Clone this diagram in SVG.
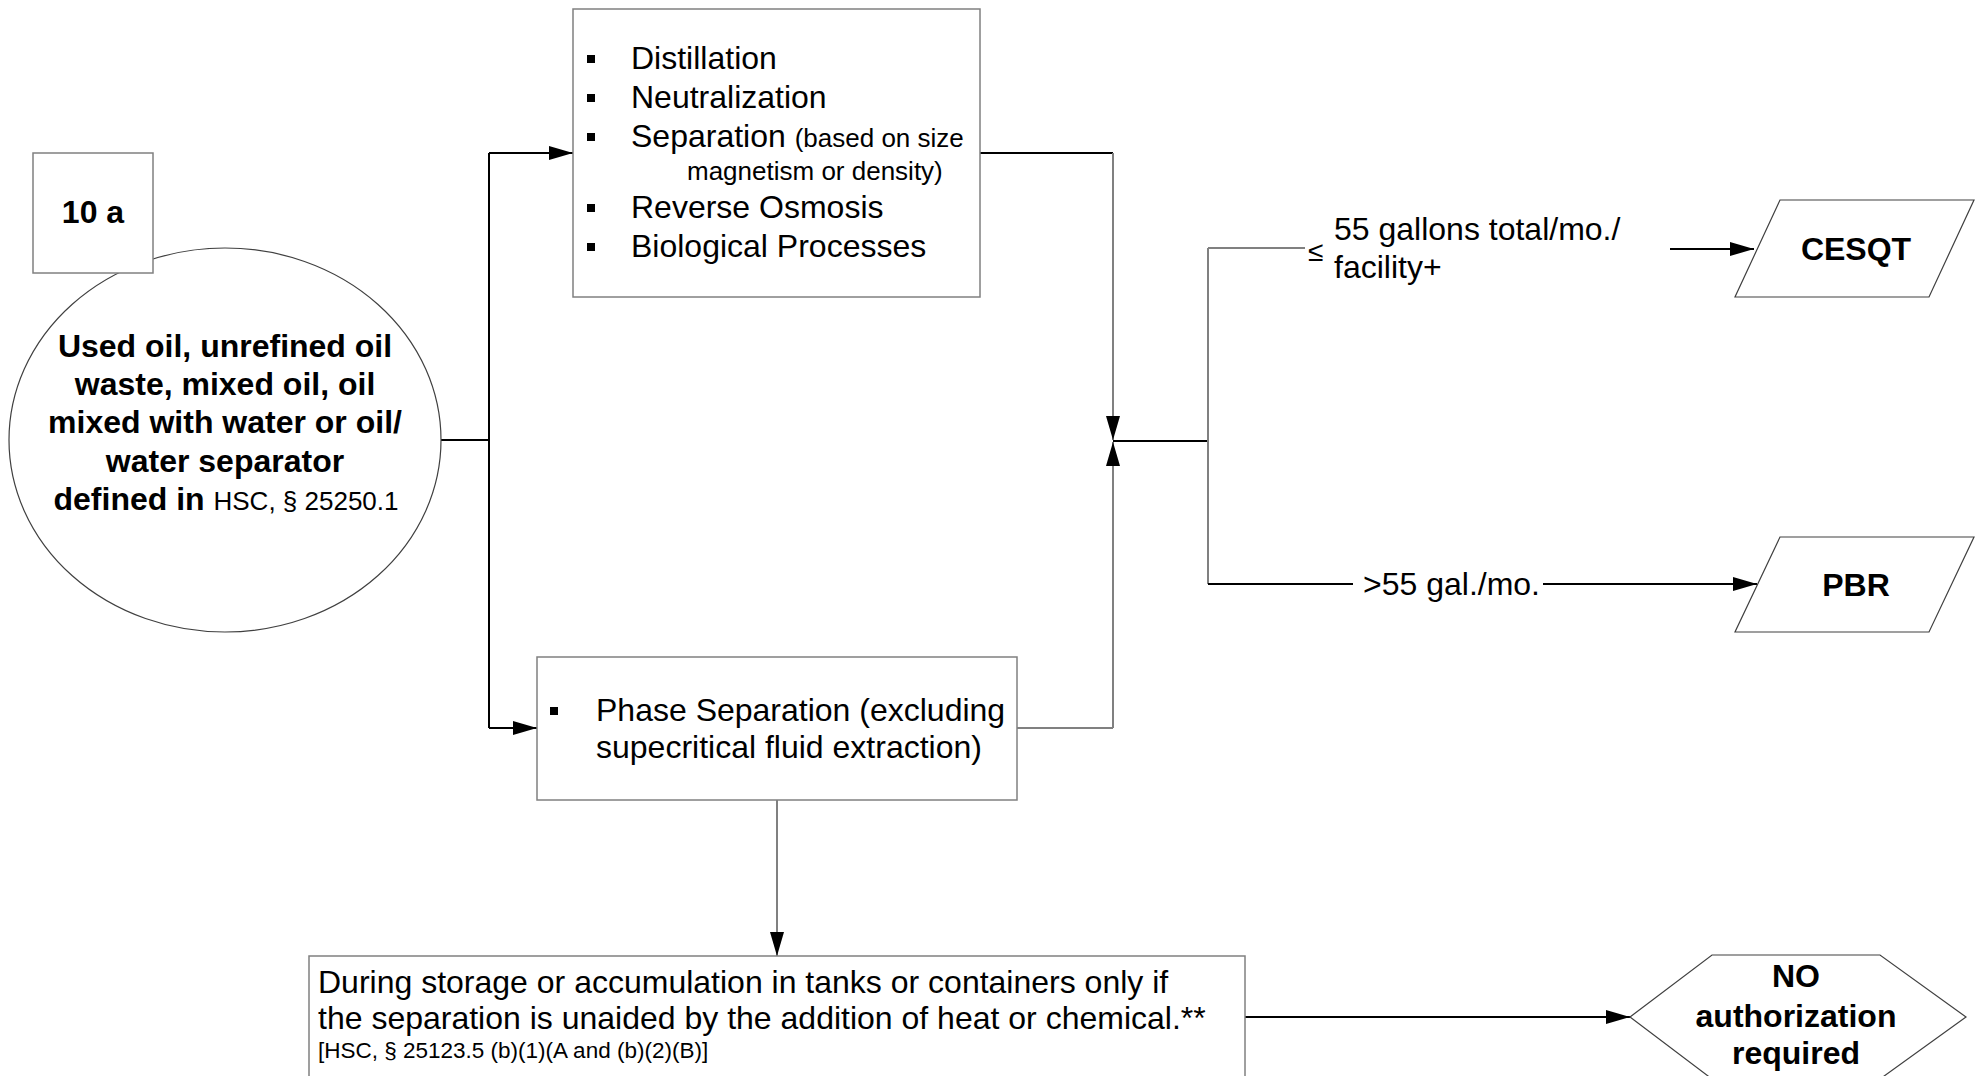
<svg xmlns="http://www.w3.org/2000/svg" width="1976" height="1076" viewBox="0 0 1976 1076">
<style>
.box{fill:#fff;stroke:#808080;stroke-width:1.5}
.shp{fill:#fff;stroke:#404040;stroke-width:1.2}
.t{font-family:'Liberation Sans',Arial,sans-serif;font-size:32px;fill:#000}
.b{font-weight:bold}
.s{font-size:26px}
.xs{font-size:22.5px}
.m{text-anchor:middle}
.ln{fill:none;stroke:#000;stroke-width:2}
.lg{fill:none;stroke:#808080;stroke-width:2}
.bul{fill:#000}
</style>
<defs>
<marker id="ah" viewBox="0 0 24 14" refX="24" refY="7" markerWidth="24" markerHeight="14" markerUnits="userSpaceOnUse" orient="auto">
<path d="M0,0 L24,7 L0,14 z" fill="#000"/>
</marker>
</defs>
<rect width="1976" height="1076" fill="#fff"/>

<g id="connectors">
<path class="ln" d="M441,440 H489"/>
<path class="ln" d="M489,153 V728"/>
<path class="ln" d="M489,153 H573" marker-end="url(#ah)"/>
<path class="ln" d="M489,728 H537" marker-end="url(#ah)"/>
<path class="ln" d="M980,153 H1113"/>
<path class="lg" d="M1113,153 V440" marker-end="url(#ah)"/>
<path class="lg" d="M1017,728 H1113"/>
<path class="lg" d="M1113,728 V442" marker-end="url(#ah)"/>
<path class="ln" d="M1113,441 H1208"/>
<path class="lg" d="M1208,248 V584"/>
<path class="lg" d="M1208,248 H1305"/>
<path class="ln" d="M1670,249 H1754" marker-end="url(#ah)"/>
<path class="ln" d="M1208,584 H1353"/>
<path class="ln" d="M1543,584 H1757" marker-end="url(#ah)"/>
<path class="lg" d="M777,800 V956" marker-end="url(#ah)"/>
<path class="ln" d="M1245,1017 H1630" marker-end="url(#ah)"/>
<text class="t" x="1308" y="261" style="font-size:28px">≤</text>
<text class="t" x="1334" y="240">55 gallons total/mo./</text>
<text class="t" x="1334" y="278">facility+</text>
<text class="t" x="1363" y="595">&gt;55 gal./mo.</text>
</g>

<g id="node-input">
<ellipse class="shp" cx="225" cy="440" rx="216" ry="192"/>
<text class="t b m" x="225" y="357">Used oil, unrefined oil</text>
<text class="t b m" x="225" y="395">waste, mixed oil, oil</text>
<text class="t b m" x="225" y="433">mixed with water or oil/</text>
<text class="t b m" x="225" y="472">water separator</text>
<text class="t b m" x="226" y="510">defined in <tspan class="s" font-weight="normal">HSC, § 25250.1</tspan></text>
</g>

<g id="node-10a">
<rect class="box" x="33" y="153" width="120" height="120"/>
<text class="t b m" x="93" y="223">10 a</text>
</g>

<g id="node-processes">
<rect class="box" x="573" y="9" width="407" height="288"/>
<rect class="bul" x="587" y="55" width="8" height="8"/>
<text class="t" x="631" y="69">Distillation</text>
<rect class="bul" x="587" y="94" width="8" height="8"/>
<text class="t" x="631" y="108">Neutralization</text>
<rect class="bul" x="587" y="133" width="8" height="8"/>
<text class="t" x="631" y="147">Separation <tspan class="s">(based on size</tspan></text>
<text class="t s" x="687" y="180">magnetism or density)</text>
<rect class="bul" x="587" y="204" width="8" height="8"/>
<text class="t" x="631" y="218">Reverse Osmosis</text>
<rect class="bul" x="587" y="243" width="8" height="8"/>
<text class="t" x="631" y="257">Biological Processes</text>
</g>

<g id="node-phase">
<rect class="box" x="537" y="657" width="480" height="143"/>
<rect class="bul" x="550" y="707" width="8" height="8"/>
<text class="t" x="596" y="721">Phase Separation (excluding</text>
<text class="t" x="596" y="758">supecritical fluid extraction)</text>
</g>

<g id="node-storage">
<rect class="box" x="309" y="956" width="936" height="140"/>
<text class="t" x="318" y="993">During storage or accumulation in tanks or containers only if</text>
<text class="t" x="318" y="1029">the separation is unaided by the addition of heat or chemical.**</text>
<text class="t xs" x="318" y="1058">[HSC, § 25123.5 (b)(1)(A and (b)(2)(B)]</text>
</g>

<g id="node-cesqt">
<polygon class="shp" points="1780,200 1974,200 1929,297 1735,297"/>
<text class="t b m" x="1856" y="260">CESQT</text>
</g>

<g id="node-pbr">
<polygon class="shp" points="1780,537 1974,537 1929,632 1735,632"/>
<text class="t b m" x="1856" y="596">PBR</text>
</g>

<g id="node-noauth">
<polygon class="shp" points="1630,1017 1712,955 1880,955 1966,1017 1880,1079 1712,1079"/>
<text class="t b m" x="1796" y="987">NO</text>
<text class="t b m" x="1796" y="1027">authorization</text>
<text class="t b m" x="1796" y="1064">required</text>
</g>
</svg>
